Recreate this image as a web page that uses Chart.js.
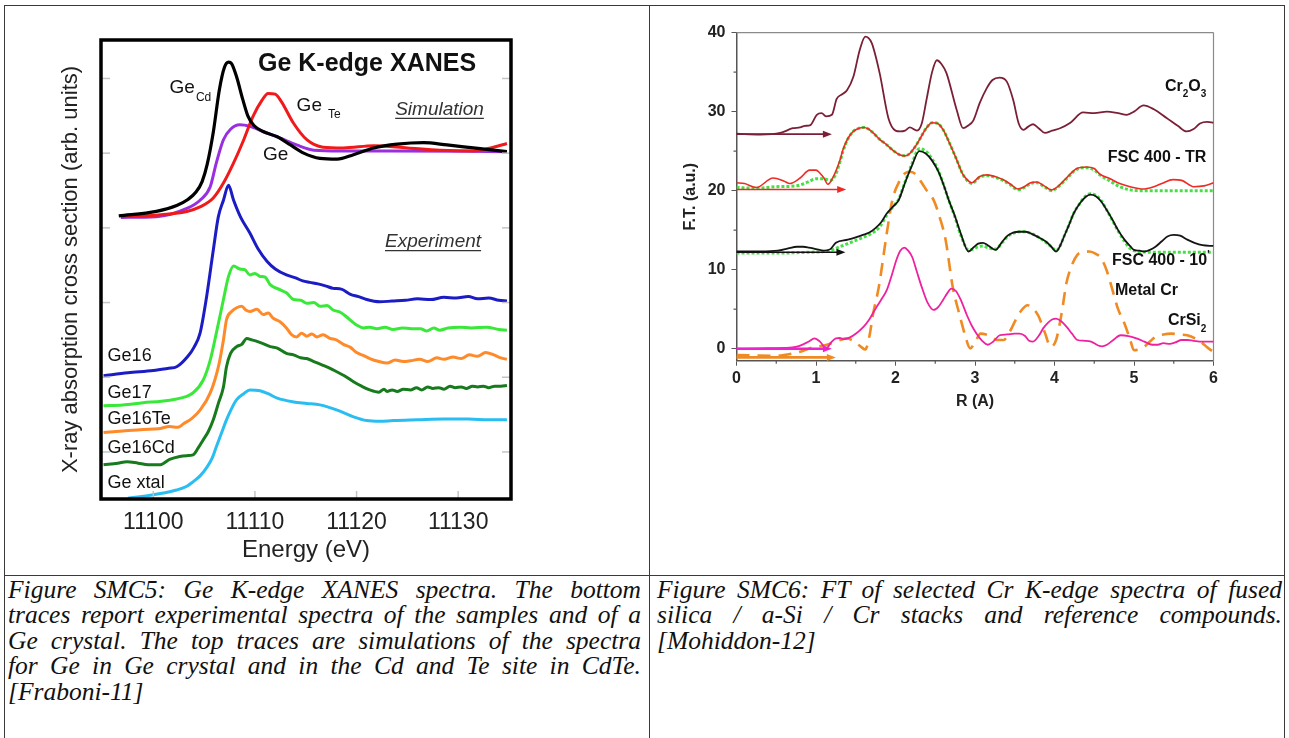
<!DOCTYPE html>
<html>
<head>
<meta charset="utf-8">
<script src="https://cdn.jsdelivr.net/npm/chart.js@4.4.1/dist/chart.umd.min.js"></script>
<style>
  html, body { margin: 0; padding: 0; background: #fff; }
  body { width: 1289px; height: 738px; position: relative; overflow: hidden; }
  canvas { position: absolute; }
  #xanes { left: 0; top: 0; }
  #ftcr { left: 650px; top: 0; }
  .rule { position: absolute; background: #3a3a3a; }
  .cap {
    position: absolute;
    font-family: "Liberation Serif", "Times New Roman", serif;
    font-style: italic;
    font-size: 25.5px;
    line-height: 25.4px;
    color: #111;
  }
  .cap .j { text-align: justify; text-align-last: justify; }
  .cap .l { text-align: left; }
</style>
</head>
<body>
<canvas id="xanes" width="649" height="575"></canvas>
<canvas id="ftcr" width="639" height="420"></canvas>

<div class="rule" style="left:4px;top:5px;width:1281px;height:1px;"></div>
<div class="rule" style="left:4px;top:575px;width:1281px;height:1px;"></div>
<div class="rule" style="left:4px;top:5px;width:1px;height:733px;"></div>
<div class="rule" style="left:649px;top:5px;width:1px;height:733px;"></div>
<div class="rule" style="left:1284px;top:5px;width:1px;height:733px;"></div>

<div class="cap" style="left:8px;top:577px;width:633px;">
  <div class="j">Figure SMC5: Ge K-edge XANES spectra. The bottom</div>
  <div class="j">traces report experimental spectra of the samples and of a</div>
  <div class="j">Ge crystal. The top traces are simulations of the spectra</div>
  <div class="j">for Ge in Ge crystal and in the Cd and Te site in CdTe.</div>
  <div class="l">[Fraboni-11]</div>
</div>
<div class="cap" style="left:657px;top:577px;width:625px;">
  <div class="j">Figure SMC6: FT of selected Cr K-edge spectra of fused</div>
  <div class="j">silica / a-Si / Cr stacks and reference compounds.</div>
  <div class="l">[Mohiddon-12]</div>
</div>

<script>
// ---------- Ge K-edge XANES (energy in eV, offset absorption in arb. units) ----------
const energyTicks = [11100, 11110, 11120, 11130];
const absTicks = [0, 1, 2, 3, 4, 5];

// simulated spectra
const simCdE = [11096.6,11100.3,11102.3,11103.4,11104.2,11104.8,11105.3,11105.9,11106.5,11107.0,11107.4,11107.7,11108.2,11108.8,11109.3,11109.9,11110.8,11112.2,11113.5,11114.8,11116.4,11118.1,11119.7,11121.7,11124.0,11126.6,11128.9,11131.5,11134.8];
const simCdV = [3.16,3.22,3.30,3.38,3.48,3.62,3.85,4.28,4.85,5.15,5.22,5.20,5.02,4.72,4.50,4.37,4.29,4.22,4.11,4.00,3.93,3.92,3.98,4.07,4.12,4.14,4.11,4.07,4.02];

const simTeE = [11097.0,11100.3,11103.3,11104.6,11105.9,11106.9,11107.9,11108.9,11109.8,11110.7,11111.3,11112.0,11112.6,11113.8,11115.1,11116.7,11118.7,11121.7,11125.0,11128.2,11131.5,11133.2,11134.8];
const simTeV = [3.15,3.17,3.22,3.28,3.40,3.60,3.87,4.18,4.49,4.71,4.80,4.79,4.69,4.40,4.18,4.08,4.07,4.10,4.07,4.04,4.03,4.07,4.13];

const simGeE = [11096.8,11100.3,11103.3,11104.6,11105.6,11106.2,11106.9,11107.6,11108.5,11109.5,11110.8,11112.5,11114.1,11115.8,11118.4,11123.3,11134.8];
const simGeV = [3.14,3.15,3.26,3.37,3.55,3.87,4.18,4.32,4.38,4.36,4.29,4.20,4.11,4.04,4.03,4.03,4.02];

// measured spectra
const ge16E = [11095.1,11097.5,11100.0,11101.5,11102.3,11103.4,11104.0,11104.6,11105.2,11105.9,11106.4,11106.9,11107.4,11107.9,11108.6,11109.5,11110.3,11111.2,11112.0,11113.1,11114.0,11114.7,11115.4,11116.2,11117.0,11117.7,11118.5,11119.4,11120.2,11121.0,11122.3,11123.5,11124.8,11126.0,11127.3,11128.6,11129.8,11131.0,11131.9,11133.0,11134.0,11134.8];
const ge16V = [1.02,1.06,1.09,1.12,1.14,1.28,1.40,1.59,2.04,2.70,3.15,3.37,3.57,3.37,3.14,2.93,2.72,2.55,2.45,2.37,2.33,2.29,2.27,2.25,2.22,2.19,2.18,2.11,2.08,2.04,2.01,2.02,2.03,2.05,2.04,2.07,2.06,2.08,2.05,2.06,2.03,2.02];

const ge17E = [11095.1,11097.0,11099.0,11100.8,11102.3,11103.2,11103.9,11104.9,11105.6,11106.2,11106.9,11107.4,11107.9,11108.5,11109.0,11109.5,11110.0,11110.5,11111.0,11111.5,11112.5,11113.1,11113.8,11114.5,11115.1,11115.8,11116.4,11117.1,11117.7,11118.4,11119.0,11119.6,11120.0,11120.7,11121.3,11122.0,11122.8,11123.6,11124.5,11125.4,11126.3,11126.9,11127.6,11128.2,11129.0,11130.2,11131.3,11132.8,11134.0,11134.8];
const ge17V = [0.62,0.63,0.66,0.68,0.71,0.74,0.79,0.96,1.23,1.59,2.04,2.35,2.49,2.45,2.44,2.37,2.39,2.35,2.34,2.24,2.17,2.13,2.04,2.03,1.99,2.00,1.95,1.96,1.90,1.87,1.81,1.74,1.70,1.66,1.67,1.65,1.67,1.64,1.66,1.65,1.65,1.62,1.66,1.63,1.66,1.67,1.66,1.67,1.64,1.63];

const ge16TeE = [11095.1,11097.0,11099.0,11100.5,11101.6,11102.4,11103.0,11103.8,11104.6,11105.6,11106.4,11106.9,11107.2,11107.7,11108.2,11108.7,11109.1,11109.5,11110.2,11110.8,11111.3,11111.8,11112.5,11113.1,11113.6,11114.1,11114.6,11115.1,11115.6,11116.1,11116.7,11117.4,11118.0,11118.7,11119.4,11120.0,11120.7,11121.3,11122.2,11123.0,11123.8,11124.6,11125.3,11126.2,11127.0,11127.9,11128.6,11129.5,11130.3,11131.1,11131.9,11132.7,11133.5,11134.2,11134.8];
const ge16TeV = [0.26,0.28,0.30,0.31,0.34,0.33,0.38,0.45,0.56,0.79,1.14,1.50,1.77,1.88,1.93,1.95,1.90,1.88,1.91,1.84,1.86,1.79,1.74,1.66,1.57,1.54,1.59,1.55,1.58,1.54,1.57,1.52,1.50,1.44,1.40,1.33,1.29,1.25,1.21,1.19,1.23,1.21,1.22,1.24,1.21,1.26,1.24,1.27,1.25,1.30,1.28,1.33,1.30,1.26,1.24];

const ge16CdE = [11095.1,11096.5,11097.4,11098.5,11099.5,11100.7,11101.6,11102.6,11103.3,11103.9,11104.4,11104.9,11105.4,11105.9,11106.4,11106.9,11107.2,11107.6,11108.2,11108.7,11109.2,11109.7,11110.2,11110.8,11111.5,11112.2,11113.1,11113.8,11114.5,11115.1,11115.8,11116.7,11117.4,11118.1,11118.8,11119.7,11120.5,11121.3,11122.2,11122.7,11123.0,11123.5,11124.0,11124.6,11125.3,11125.9,11126.4,11127.0,11127.5,11128.1,11128.6,11129.2,11129.7,11130.3,11130.8,11131.4,11131.9,11132.5,11133.0,11133.6,11134.2,11134.8];
const ge16CdV = [-0.17,-0.15,-0.13,-0.15,-0.17,-0.17,-0.10,-0.06,-0.05,-0.04,0.05,0.16,0.27,0.43,0.65,0.87,1.14,1.32,1.41,1.44,1.52,1.50,1.48,1.45,1.41,1.39,1.32,1.30,1.26,1.25,1.21,1.16,1.12,1.07,1.02,0.94,0.88,0.83,0.80,0.84,0.81,0.83,0.81,0.84,0.83,0.86,0.83,0.87,0.85,0.86,0.84,0.88,0.86,0.87,0.85,0.88,0.87,0.88,0.86,0.88,0.88,0.89];

const geXtalE = [11097.5,11099.7,11101.0,11102.3,11103.3,11103.9,11104.6,11105.3,11105.8,11106.2,11106.7,11107.2,11107.7,11108.2,11108.9,11109.5,11110.5,11111.3,11112.2,11113.8,11115.1,11116.4,11118.1,11119.7,11121.0,11122.3,11123.6,11126.0,11128.6,11131.0,11133.0,11134.8];
const geXtalV = [-0.62,-0.58,-0.55,-0.51,-0.46,-0.40,-0.32,-0.20,-0.08,0.07,0.25,0.43,0.58,0.70,0.78,0.83,0.82,0.78,0.72,0.67,0.65,0.63,0.56,0.47,0.42,0.41,0.42,0.43,0.44,0.44,0.43,0.43];

// ---------- Cr K-edge Fourier transforms (R in angstrom, F.T. in a.u.) ----------
const rTicks = [0, 1, 2, 3, 4, 5, 6];
const rMinor = [0.5, 1.5, 2.5, 3.5, 4.5, 5.5];
const ftTicks = [0, 10, 20, 30, 40];
const ftMinor = [5, 15, 25, 35];

const cr2o3R = [0,0.3,0.55,0.71,0.8,0.86,0.93,1.01,1.07,1.13,1.2,1.26,1.33,1.39,1.47,1.55,1.62,1.7,1.8,1.91,2.0,2.06,2.12,2.18,2.27,2.33,2.39,2.46,2.52,2.58,2.64,2.77,2.85,2.91,2.98,3.06,3.15,3.22,3.31,3.4,3.48,3.55,3.61,3.67,3.73,3.8,3.88,3.97,4.07,4.2,4.36,4.5,4.66,4.8,4.91,5.0,5.12,5.25,5.41,5.55,5.66,5.75,5.83,5.92,6.0];
const cr2o3F = [27.2,27.1,27.3,27.9,28.0,28.2,28.3,29.6,29.8,29.4,29.6,31.6,32.2,32.7,34.4,37.8,39.5,38.7,34.9,29.2,27.6,27.5,27.6,28.0,27.6,28.5,31.5,35.0,36.5,36.0,34.9,30.2,27.9,28.2,28.9,31.1,33.0,34.0,34.3,33.8,31.5,28.5,27.7,28.1,28.4,27.9,27.3,27.6,27.9,28.6,29.9,29.8,30.0,29.8,29.6,30.0,30.8,30.3,29.2,28.2,27.5,27.8,28.5,28.7,28.6];

const trR = [0,0.1,0.25,0.46,0.6,0.67,0.8,0.92,1.0,1.05,1.1,1.15,1.22,1.3,1.34,1.4,1.47,1.54,1.6,1.66,1.72,1.8,1.89,1.98,2.06,2.12,2.18,2.25,2.31,2.38,2.46,2.53,2.6,2.68,2.77,2.84,2.9,2.96,3.06,3.15,3.25,3.35,3.45,3.54,3.62,3.7,3.78,3.87,3.96,4.05,4.15,4.28,4.4,4.5,4.57,4.7,4.82,4.95,5.11,5.25,5.35,5.49,5.6,5.75,5.88,6.0];
const trF = [21.0,20.9,20.4,21.6,21.2,20.9,21.6,22.6,22.6,22.2,21.6,20.8,21.8,23.8,25.2,26.6,27.5,27.9,28.0,27.8,27.3,26.5,25.8,25.0,24.5,24.4,24.7,25.6,26.6,27.8,28.6,28.5,27.7,26.0,23.9,22.2,21.4,21.0,21.8,22.0,21.8,21.4,20.8,20.2,20.5,21.0,21.1,20.6,20.1,20.6,21.6,22.8,23.0,22.8,22.1,21.5,20.9,20.5,20.2,20.5,20.9,21.4,21.3,20.5,20.6,21.0];
const trFitR = [0,0.25,0.5,0.75,0.9,1.0,1.1,1.18,1.24,1.3,1.34,1.4,1.47,1.54,1.6,1.66,1.72,1.8,1.89,1.98,2.06,2.12,2.18,2.25,2.31,2.38,2.46,2.53,2.6,2.68,2.77,2.84,2.9,2.96,3.06,3.15,3.25,3.35,3.45,3.54,3.62,3.7,3.78,3.87,3.96,4.05,4.15,4.28,4.4,4.5,4.57,4.7,4.82,4.95,5.1,5.5,6.0];
const trFitF = [20.4,20.3,20.5,20.6,21.1,21.5,21.5,21.3,21.9,23.6,25.0,26.5,27.5,27.9,28.0,27.8,27.3,26.5,25.8,25.0,24.5,24.4,24.7,25.6,26.6,27.8,28.6,28.5,27.7,26.0,23.9,22.2,21.3,20.9,21.7,21.9,21.7,21.3,20.7,20.1,20.4,20.9,21.0,20.5,20.0,20.5,21.5,22.7,22.9,22.6,22.0,21.2,20.5,20.1,20.0,20.0,20.0];

const m10R = [0,0.3,0.52,0.65,0.76,0.84,0.91,1.0,1.1,1.18,1.25,1.4,1.5,1.59,1.67,1.74,1.82,1.89,1.97,2.04,2.12,2.2,2.3,2.38,2.46,2.54,2.62,2.67,2.75,2.82,2.92,2.98,3.04,3.1,3.16,3.26,3.34,3.41,3.48,3.56,3.63,3.7,3.8,3.9,3.96,4.02,4.07,4.12,4.18,4.24,4.32,4.39,4.45,4.52,4.59,4.66,4.73,4.8,4.88,4.95,5.0,5.07,5.13,5.2,5.27,5.35,5.42,5.5,5.58,5.67,5.76,5.86,6.0];
const m10F = [12.3,12.3,12.4,12.7,12.9,12.9,12.8,12.6,12.4,12.6,13.4,13.8,14.1,14.4,14.7,15.2,16.0,17.1,18.0,18.8,21.0,23.0,25.0,24.7,23.8,22.4,20.3,18.8,16.7,14.6,12.3,12.8,13.3,13.4,13.1,12.5,13.5,14.3,14.7,14.8,14.8,14.6,14.1,13.5,12.9,12.3,13.0,14.2,15.6,17.1,18.4,19.2,19.5,19.3,18.6,17.5,16.3,15.0,13.8,13.0,12.5,12.4,12.3,12.5,12.9,13.6,14.2,14.4,14.3,13.8,13.4,13.1,13.0];
const m10FitR = [0,0.5,0.9,1.1,1.2,1.3,1.4,1.5,1.6,1.7,1.8,1.89,1.97,2.04,2.12,2.2,2.3,2.38,2.46,2.54,2.62,2.67,2.75,2.82,2.92,2.98,3.04,3.1,3.16,3.26,3.34,3.41,3.48,3.56,3.63,3.7,3.8,3.9,3.96,4.02,4.07,4.12,4.18,4.24,4.32,4.39,4.45,4.52,4.59,4.66,4.73,4.8,4.88,4.95,5.05,5.3,5.7,6.0];
const m10FitF = [12.1,12.1,12.2,12.3,12.5,12.9,13.3,13.7,14.1,14.6,15.4,16.9,18.0,18.9,21.1,23.2,25.3,25.0,24.0,22.5,20.3,18.8,16.6,14.4,12.5,12.6,12.9,13.0,12.8,12.6,13.4,14.2,14.6,14.8,14.8,14.6,14.1,13.4,12.9,12.4,13.0,14.2,15.6,17.1,18.4,19.3,19.6,19.4,18.7,17.5,16.2,14.9,13.6,12.7,12.3,12.2,12.2,12.2];

const metalCrR = [0,0.5,0.71,0.84,0.97,1.1,1.22,1.3,1.39,1.45,1.51,1.57,1.62,1.67,1.72,1.79,1.89,1.96,2.05,2.12,2.19,2.26,2.33,2.4,2.48,2.56,2.63,2.72,2.8,2.87,2.94,3.0,3.07,3.14,3.21,3.28,3.36,3.44,3.51,3.58,3.66,3.73,3.8,3.88,3.95,4.02,4.09,4.15,4.22,4.29,4.36,4.44,4.52,4.59,4.66,4.73,4.8,4.88,4.95,5.0,5.06,5.13,5.2,5.27,5.37,5.47,5.57,5.67,5.77,5.86,5.93,6.0];
const metalCrF = [-0.8,-0.9,-0.6,-0.25,0.2,0.4,0.8,1.1,1.3,1.1,0.7,0.2,-0.1,1.5,4.5,7.8,14.6,18.8,21.2,22.2,22.4,22.0,21.0,19.9,18.8,16.5,13.8,7.8,4.5,1.9,0.04,0.8,1.9,1.8,1.5,1.1,1.1,2.2,3.6,4.8,5.5,5.1,4.1,2.0,0.25,1.1,4.5,8.3,10.6,11.9,12.2,12.3,12.0,11.4,9.8,7.4,5.0,3.2,1.2,-0.2,-0.1,0.25,0.9,1.5,1.8,1.9,1.8,1.7,1.3,0.7,0.1,-0.4];

const crSi2R = [0,0.3,0.6,0.76,0.85,0.91,0.98,1.05,1.13,1.19,1.25,1.3,1.35,1.42,1.5,1.6,1.67,1.74,1.82,1.89,1.95,2.01,2.06,2.11,2.16,2.21,2.27,2.33,2.4,2.48,2.54,2.6,2.65,2.7,2.76,2.82,2.9,2.96,3.02,3.09,3.16,3.23,3.31,3.4,3.5,3.56,3.63,3.68,3.73,3.8,3.86,3.92,3.97,4.02,4.08,4.15,4.22,4.29,4.38,4.46,4.55,4.6,4.66,4.74,4.83,4.93,5.03,5.13,5.23,5.3,5.37,5.45,5.52,5.6,5.67,5.75,5.86,6.0];
const crSi2F = [0.0,0.05,0.1,0.25,0.6,0.9,1.3,0.9,0.04,0.8,1.3,1.35,1.2,1.4,1.9,2.8,3.7,4.9,6.2,7.4,9.2,11.2,12.4,12.8,12.4,11.6,9.7,7.8,5.9,4.9,5.3,6.2,7.0,7.6,7.3,6.2,4.2,2.9,1.9,1.0,0.5,0.9,1.7,1.8,1.9,1.9,1.6,1.0,0.9,1.6,2.6,3.3,3.7,3.8,3.5,2.8,1.9,1.1,1.0,0.9,0.4,0.3,0.5,1.1,1.7,1.6,1.3,0.9,0.5,0.5,0.7,0.6,0.8,1.1,1.1,1.0,0.9,0.9];

// baseline offset arrows: level, end point in R, colour and stroke
const arrowLevel = [27.15, 20.15, 12.2, 0.0, -1.1];
const arrowEnd = [1.2, 1.38, 1.37, 1.2, 1.25];
const arrowColor = ['#7a1f36', '#ee2a24', '#111111', '#ee22cc', '#f08a22'];
const arrowWidth = [1.6, 1.6, 1.6, 2.6, 2.8];

const SANS = "'Liberation Sans', Arial, Helvetica, sans-serif";
Chart.defaults.font.family = SANS;
Chart.defaults.color = '#222';

const pts = (xs, ys) => xs.map((x, i) => ({ x, y: ys[i] }));

// text annotations: runs can be lowered (sub) or raised (sup)
function drawNote(ctx, n, px, py) {
  const st = (n.style || '') + ' ' + (n.weight || '');
  const base = st + ' ' + n.size + 'px ' + SANS;
  const small = st + ' ' + Math.round(n.size * 0.62) + 'px ' + SANS;
  let w = 0;
  n.runs.forEach(r => { ctx.font = r.s ? small : base; w += ctx.measureText(r.t).width + (r.gap || 0); });
  let x0 = n.align === 'right' ? px - w : (n.align === 'center' ? px - w / 2 : px);
  const start = x0;
  ctx.textBaseline = 'middle';
  ctx.textAlign = 'left';
  ctx.fillStyle = n.color || '#111';
  n.runs.forEach(r => {
    ctx.font = r.s ? small : base;
    x0 += r.gap || 0;
    const dy = r.s === 'sub' ? n.size * 0.5 : (r.s === 'sup' ? -n.size * 0.3 : 0);
    ctx.fillText(r.t, x0, py + dy);
    x0 += ctx.measureText(r.t).width;
  });
  if (n.underline) {
    ctx.strokeStyle = n.color || '#111';
    ctx.lineWidth = 1.4;
    ctx.beginPath();
    ctx.moveTo(start, py + n.size * 0.45);
    ctx.lineTo(start + w, py + n.size * 0.45);
    ctx.stroke();
  }
}

const xanesNotes = [
  { x: 11110.3, y: 5.19, size: 25, weight: 'bold', runs: [{ t: 'Ge K-edge XANES' }] },
  { x: 11101.6, y: 4.87, size: 19, runs: [{ t: 'Ge' }, { t: 'Cd', s: 'sub', gap: 1 }] },
  { x: 11114.1, y: 4.64, size: 19, runs: [{ t: 'Ge' }, { t: 'Te', s: 'sub', gap: 6 }] },
  { x: 11110.8, y: 3.98, size: 19, runs: [{ t: 'Ge' }] },
  { x: 11123.8, y: 4.58, size: 19, style: 'italic', underline: true, color: '#333', runs: [{ t: 'Simulation' }] },
  { x: 11122.8, y: 2.81, size: 19, style: 'italic', underline: true, color: '#333', runs: [{ t: 'Experiment' }] },
  { x: 11095.5, y: 1.29, size: 18, runs: [{ t: 'Ge16' }] },
  { x: 11095.5, y: 0.79, size: 18, runs: [{ t: 'Ge17' }] },
  { x: 11095.5, y: 0.44, size: 18, runs: [{ t: 'Ge16Te' }] },
  { x: 11095.5, y: 0.05, size: 18, runs: [{ t: 'Ge16Cd' }] },
  { x: 11095.5, y: -0.42, size: 18, runs: [{ t: 'Ge xtal' }] }
];

const ftNotes = [
  { x: 5.91, y: 33.2, size: 16, weight: 'bold', align: 'right', runs: [{ t: 'Cr' }, { t: '2', s: 'sub' }, { t: 'O' }, { t: '3', s: 'sub' }] },
  { x: 5.91, y: 24.2, size: 16, weight: 'bold', align: 'right', runs: [{ t: 'FSC 400 - TR' }] },
  { x: 5.95, y: 11.2, size: 16, weight: 'bold', align: 'right', runs: [{ t: 'FSC 400 - 10' }, { t: "'", s: 'sup' }] },
  { x: 4.76, y: 7.3, size: 16, weight: 'bold', runs: [{ t: 'Metal Cr' }] },
  { x: 5.91, y: 3.5, size: 16, weight: 'bold', align: 'right', runs: [{ t: 'CrSi' }, { t: '2', s: 'sub' }] }
];

const notesPlugin = {
  id: 'notes',
  afterDatasetsDraw(chart, args, opts) {
    const { ctx, scales: { x, y } } = chart;
    ctx.save();
    opts.items.forEach(n => drawNote(ctx, n, x.getPixelForValue(n.x), y.getPixelForValue(n.y)));
    ctx.restore();
  }
};

function seg(ctx, x1, y1, x2, y2) {
  ctx.beginPath(); ctx.moveTo(x1, y1); ctx.lineTo(x2, y2); ctx.stroke();
}

// heavy frame and inward ticks of the XANES panel
const xanesFrame = {
  id: 'xanesFrame',
  afterDatasetsDraw(chart) {
    const { ctx, chartArea: a, scales: { x, y } } = chart;
    ctx.save();
    ctx.strokeStyle = '#c4c4c4';
    ctx.lineWidth = 1.5;
    absTicks.forEach(v => {
      const py = y.getPixelForValue(v);
      seg(ctx, a.left, py, a.left + 9, py);
      seg(ctx, a.right - 9, py, a.right, py);
    });
    energyTicks.forEach(v => {
      const px = x.getPixelForValue(v);
      seg(ctx, px, a.bottom, px, a.bottom - 8);
    });
    ctx.strokeStyle = '#000';
    ctx.lineWidth = 3.5;
    ctx.strokeRect(a.left, a.top, a.right - a.left, a.bottom - a.top);
    ctx.restore();
  }
};

// box, minor ticks and offset arrows of the FT panel
const ftFrame = {
  id: 'ftFrame',
  beforeDatasetsDraw(chart) {
    const { ctx, chartArea: a, scales: { x, y } } = chart;
    ctx.save();
    ctx.strokeStyle = '#8a8a8a';
    ctx.lineWidth = 1.2;
    seg(ctx, a.left, a.top, a.right, a.top);
    seg(ctx, a.right, a.top, a.right, a.bottom);
    ctx.strokeStyle = '#555';
    ctx.lineWidth = 1.2;
    ftMinor.forEach(v => { const py = y.getPixelForValue(v); seg(ctx, a.left - 3, py, a.left, py); });
    rMinor.forEach(v => { const px = x.getPixelForValue(v); seg(ctx, px, a.bottom, px, a.bottom + 3); });
    ctx.restore();
  },
  afterDatasetsDraw(chart) {
    const { ctx, scales: { x, y } } = chart;
    ctx.save();
    arrowLevel.forEach((lv, i) => {
      const py = y.getPixelForValue(lv);
      const x0 = x.getPixelForValue(0);
      const x1 = x.getPixelForValue(arrowEnd[i]);
      ctx.strokeStyle = arrowColor[i];
      ctx.fillStyle = arrowColor[i];
      ctx.lineWidth = arrowWidth[i];
      seg(ctx, x0, py, x1 - 6, py);
      ctx.beginPath();
      ctx.moveTo(x1, py);
      ctx.lineTo(x1 - 9, py - 3.5);
      ctx.lineTo(x1 - 9, py + 3.5);
      ctx.closePath();
      ctx.fill();
    });
    ctx.restore();
  }
};

const line = (data, color, width, extra) => Object.assign({
  data, borderColor: color, borderWidth: width, pointRadius: 0,
  cubicInterpolationMode: 'monotone', fill: false
}, extra || {});

new Chart(document.getElementById('xanes'), {
  type: 'line',
  data: {
    datasets: [
      line(pts(simCdE, simCdV), '#000000', 3.2),
      line(pts(simTeE, simTeV), '#f01a1a', 3),
      line(pts(simGeE, simGeV), '#9a2fe0', 3),
      line(pts(ge16E, ge16V), '#1c1cc4', 3),
      line(pts(ge17E, ge17V), '#3ae83a', 3),
      line(pts(ge16TeE, ge16TeV), '#ff8a2a', 3),
      line(pts(ge16CdE, ge16CdV), '#177a1c', 3),
      line(pts(geXtalE, geXtalV), '#29bdf2', 3)
    ]
  },
  options: {
    responsive: false,
    animation: false,
    layout: { padding: { left: 0, top: 40, right: 138, bottom: 0 } },
    plugins: { legend: { display: false }, tooltip: { enabled: false }, notes: { items: xanesNotes } },
    scales: {
      x: {
        type: 'linear', min: 11094.85, max: 11135.2,
        afterBuildTicks: s => { s.ticks = energyTicks.map(v => ({ value: v })); },
        afterFit: s => { s.height = 76; },
        grid: { display: false, drawTicks: false },
        border: { display: false },
        ticks: { padding: 10, font: { size: 23 }, color: '#222', callback: v => String(v), maxRotation: 0 },
        title: { display: true, text: 'Energy (eV)', font: { size: 24 }, color: '#222', padding: { top: 0, bottom: 10 } }
      },
      y: {
        type: 'linear', min: -0.63, max: 5.515,
        afterBuildTicks: s => { s.ticks = absTicks.map(v => ({ value: v })); },
        afterFit: s => { s.width = 101; },
        grid: { display: false, drawTicks: false },
        border: { display: false },
        ticks: { display: false },
        title: { display: true, text: 'X-ray absorption cross section (arb. units)', font: { size: 22 }, color: '#222', padding: { top: 58, bottom: 0 } }
      }
    }
  },
  plugins: [xanesFrame, notesPlugin]
});

new Chart(document.getElementById('ftcr'), {
  type: 'line',
  data: {
    datasets: [
      line(pts(trFitR, trFitF), '#44e044', 3, { order: 10, borderDash: [3, 2] }),
      line(pts(m10FitR, m10FitF), '#44e044', 3, { order: 10, borderDash: [3, 2] }),
      line(pts(cr2o3R, cr2o3F), '#7a1f36', 1.8, { order: 2 }),
      line(pts(trR, trF), '#ee2a24', 1.6, { order: 1 }),
      line(pts(m10R, m10F), '#151515', 1.8, { order: 1 }),
      line(pts(metalCrR, metalCrF), '#f08a22', 2.6, { order: 3, borderDash: [13, 8] }),
      line(pts(crSi2R, crSi2F), '#ee22a0', 1.8, { order: 2 })
    ]
  },
  options: {
    responsive: false,
    animation: false,
    layout: { padding: { left: 0, top: 32.6, right: 75.5, bottom: 0 } },
    plugins: { legend: { display: false }, tooltip: { enabled: false }, notes: { items: ftNotes } },
    scales: {
      x: {
        type: 'linear', min: 0, max: 6,
        afterBuildTicks: s => { s.ticks = rTicks.map(v => ({ value: v })); },
        afterFit: s => { s.height = 59.3; },
        grid: { drawOnChartArea: false, drawTicks: true, tickLength: 5, color: '#555' },
        border: { color: '#555', width: 1.5 },
        ticks: { padding: 3, font: { size: 16, weight: 'bold' }, color: '#222', callback: v => String(v), maxRotation: 0 },
        title: { display: true, text: 'R (A)', font: { size: 16, weight: 'bold' }, color: '#222', padding: { top: 0, bottom: 8.5 } }
      },
      y: {
        type: 'linear', min: -1.52, max: 40,
        afterBuildTicks: s => { s.ticks = ftTicks.map(v => ({ value: v })); },
        afterFit: s => { s.width = 86.5; },
        grid: { drawOnChartArea: false, drawTicks: true, tickLength: 5, color: '#555' },
        border: { color: '#555', width: 1.5 },
        ticks: { padding: 6, font: { size: 16, weight: 'bold' }, color: '#222', callback: v => String(v) },
        title: { display: true, text: 'F.T. (a.u.)', font: { size: 16, weight: 'bold' }, color: '#222', padding: { top: 31, bottom: 0 } }
      }
    }
  },
  plugins: [ftFrame, notesPlugin]
});
</script>
</body>
</html>
